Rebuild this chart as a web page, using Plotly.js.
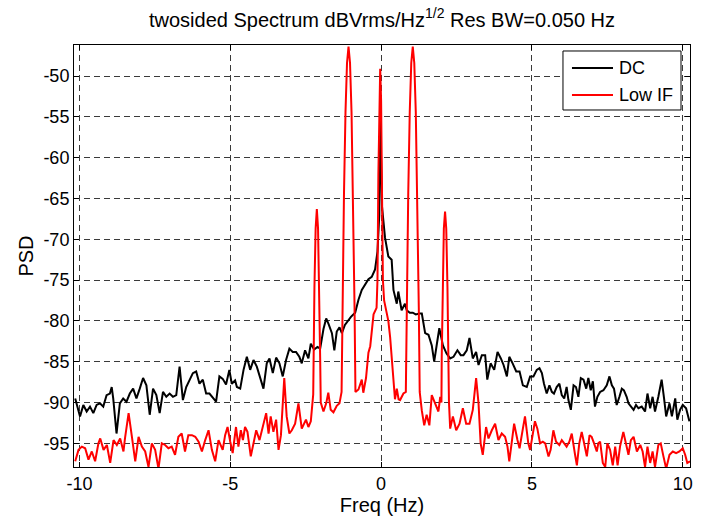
<!DOCTYPE html>
<html>
<head>
<meta charset="utf-8">
<script src="https://cdn.plot.ly/plotly-3.0.1.min.js"></script>
<style>html,body{margin:0;padding:0;background:#fff;}#chart{width:703px;height:520px;}</style>
</head>
<body>
<div id="chart"></div>
<script>
// DC series (black)
const dcFreq = [-10.14,-9.98,-9.87,-9.76,-9.65,-9.54,-9.43,-9.32,-9.21,-9.10,-8.99,-8.93,-8.88,-8.77,-8.66,-8.55,-8.44,-8.33,-8.22,-8.11,-8.00,-7.89,-7.78,-7.67,-7.56,-7.45,-7.34,-7.23,-7.12,-7.01,-6.90,-6.79,-6.68,-6.57,-6.46,-6.35,-6.24,-6.13,-6.02,-5.91,-5.80,-5.69,-5.58,-5.47,-5.36,-5.25,-5.14,-5.03,-4.95,-4.84,-4.78,-4.67,-4.56,-4.45,-4.34,-4.23,-4.12,-4.01,-3.90,-3.79,-3.70,-3.59,-3.48,-3.37,-3.26,-3.15,-3.04,-2.93,-2.82,-2.71,-2.63,-2.52,-2.41,-2.33,-2.22,-2.11,-2.02,-1.91,-1.82,-1.74,-1.63,-1.55,-1.47,-1.38,-1.30,-1.20,-1.10,-1.00,-0.86,-0.75,-0.64,-0.53,-0.42,-0.31,-0.20,-0.12,-0.06,-0.03,0.03,0.13,0.24,0.35,0.41,0.52,0.57,0.68,0.79,0.85,0.95,1.05,1.15,1.27,1.35,1.46,1.57,1.68,1.76,1.85,1.93,2.05,2.17,2.29,2.40,2.53,2.64,2.73,2.84,2.93,3.04,3.15,3.23,3.34,3.45,3.52,3.63,3.75,3.86,3.97,4.06,4.17,4.25,4.36,4.48,4.59,4.70,4.83,4.94,5.05,5.16,5.25,5.33,5.40,5.49,5.58,5.66,5.73,5.82,5.91,5.99,6.07,6.15,6.21,6.29,6.38,6.46,6.54,6.62,6.71,6.80,6.87,6.95,7.02,7.09,7.17,7.26,7.37,7.48,7.57,7.65,7.72,7.81,7.90,7.98,8.05,8.14,8.20,8.28,8.37,8.45,8.53,8.64,8.75,8.83,8.92,9.00,9.08,9.19,9.30,9.38,9.45,9.56,9.64,9.75,9.82,9.91,10.00,10.11,10.22];
const dcPsd = [-89.5,-91.7,-90.3,-91.1,-90.5,-91.3,-90.3,-90.1,-90.5,-89.1,-88.9,-88.1,-89.5,-93.8,-90.1,-89.5,-89.9,-88.9,-88.3,-89.5,-88.3,-87.0,-87.9,-91.5,-88.3,-89.1,-91.3,-88.7,-89.3,-88.9,-89.3,-89.1,-85.6,-89.7,-88.1,-87.2,-86.4,-86.2,-87.7,-87.2,-88.9,-88.9,-89.4,-89.9,-86.8,-87.1,-87.8,-86.0,-87.7,-87.3,-88.1,-88.3,-86.0,-84.4,-86.0,-84.8,-85.6,-87.0,-88.3,-85.2,-84.6,-86.4,-84.5,-85.2,-86.8,-84.8,-83.4,-83.8,-83.8,-84.4,-85.2,-83.6,-84.6,-82.8,-83.5,-83.2,-83.4,-81.0,-79.7,-80.4,-81.5,-83.6,-81.3,-80.8,-81.5,-80.5,-80.0,-79.5,-79.0,-77.4,-76.2,-75.5,-74.9,-74.6,-73.7,-71.5,-67.0,-54.3,-66.0,-69.8,-72.1,-72.5,-76.2,-77.9,-76.4,-78.7,-77.9,-78.7,-79.0,-79.0,-79.2,-79.1,-79.1,-81.5,-81.7,-83.0,-85.0,-82.8,-80.9,-83.0,-84.0,-84.6,-84.4,-83.6,-84.2,-84.2,-83.6,-82.1,-84.6,-83.8,-85.4,-84.2,-84.2,-87.2,-85.2,-86.0,-83.8,-84.6,-85.4,-86.8,-84.4,-85.2,-86.2,-86.2,-87.9,-88.1,-86.8,-86.8,-86.0,-85.8,-86.4,-87.7,-88.9,-87.9,-88.7,-88.9,-88.1,-87.7,-89.1,-89.5,-88.1,-89.7,-90.9,-87.9,-88.1,-89.3,-87.0,-87.2,-88.3,-87.0,-88.5,-87.4,-90.5,-89.3,-88.7,-88.5,-87.9,-86.8,-87.9,-88.3,-90.3,-89.3,-88.3,-88.5,-89.3,-90.1,-90.5,-90.9,-90.3,-90.7,-90.5,-91.1,-88.9,-90.7,-89.3,-91.1,-89.3,-87.2,-89.5,-91.7,-90.1,-91.7,-89.5,-92.1,-90.9,-90.3,-90.7,-92.3];

// Low IF series (red)
const lowIfFreq = [-10.14,-10.03,-9.92,-9.81,-9.70,-9.59,-9.48,-9.37,-9.31,-9.20,-9.09,-8.98,-8.87,-8.76,-8.65,-8.54,-8.49,-8.37,-8.26,-8.15,-8.04,-7.93,-7.82,-7.71,-7.60,-7.49,-7.38,-7.27,-7.16,-7.05,-6.94,-6.83,-6.72,-6.61,-6.50,-6.39,-6.27,-6.16,-6.05,-5.94,-5.83,-5.72,-5.61,-5.50,-5.39,-5.25,-5.17,-5.09,-5.00,-4.92,-4.81,-4.73,-4.65,-4.58,-4.51,-4.43,-4.32,-4.23,-4.14,-4.03,-3.92,-3.81,-3.73,-3.66,-3.57,-3.48,-3.40,-3.32,-3.21,-3.13,-3.04,-2.96,-2.85,-2.74,-2.63,-2.57,-2.49,-2.41,-2.33,
  -2.25,-2.24,-2.21,-2.17,-2.13,-2.09,-2.05,-2.02,-2.00,-1.91,-1.82,-1.75,-1.67,-1.58,-1.47,-1.38,
  -1.31,-1.28,-1.23,-1.18,-1.13,-1.08,-1.03,-0.98,-0.93,-0.88,-0.85,-0.75,-0.64,-0.59,-0.50,-0.42,-0.36,-0.31,-0.25,
  -0.15,-0.12,-0.09,-0.06,-0.03,0.00,0.03,0.06,0.10,0.17,0.24,0.30,0.35,0.43,0.46,0.52,0.58,0.63,0.74,
  0.82,0.85,0.90,0.95,1.00,1.05,1.10,1.15,1.20,1.25,1.28,1.35,1.43,1.51,1.60,1.68,1.79,1.90,1.96,
  2.00,2.01,2.04,2.08,2.12,2.16,2.20,2.23,2.25,
  2.29,2.38,2.49,2.60,2.71,2.82,2.93,3.04,3.15,3.23,3.30,3.37,3.48,3.56,3.67,3.78,3.89,4.00,4.11,4.19,4.25,4.36,4.41,4.52,4.59,4.70,4.77,4.88,4.94,5.10,5.18,5.27,5.36,5.44,5.55,5.62,5.71,5.80,5.91,5.99,6.07,6.15,6.24,6.32,6.43,6.49,6.57,6.65,6.73,6.82,6.91,6.98,7.06,7.15,7.20,7.26,7.35,7.43,7.50,7.59,7.68,7.76,7.84,7.92,8.03,8.12,8.20,8.28,8.37,8.48,8.59,8.67,8.75,8.83,8.92,9.00,9.08,9.19,9.27,9.36,9.45,9.56,9.67,9.78,9.89,10.00,10.08,10.15,10.24];
const lowIfPsd = [-97.2,-95.8,-95.4,-95.6,-97.0,-96.0,-97.2,-95.0,-94.4,-95.8,-95.2,-97.4,-94.6,-95.2,-94.4,-96.0,-94.4,-91.3,-94.2,-97.2,-94.2,-95.4,-96.0,-97.9,-95.0,-95.8,-98.1,-95.0,-95.2,-95.6,-95.4,-96.4,-94.2,-93.8,-96.0,-94.0,-94.0,-94.2,-94.8,-96.0,-94.6,-93.4,-95.8,-97.2,-94.6,-95.8,-94.0,-93.0,-94.8,-96.2,-93.0,-95.4,-93.4,-94.6,-93.0,-93.6,-96.6,-95.0,-93.4,-94.6,-93.0,-91.3,-93.8,-91.7,-93.6,-92.1,-95.8,-94.0,-87.0,-91.7,-93.8,-93.4,-92.6,-90.1,-93.2,-92.8,-92.1,-93.0,-92.3,
  -89.0,-84.5,-75.9,-68.7,-66.3,-68.7,-75.9,-84.5,-90.0,-91.1,-90.1,-88.8,-90.9,-91.2,-90.4,-90.1,
  -88.7,-78.4,-64.4,-54.4,-48.4,-46.4,-48.4,-54.4,-64.4,-78.4,-88.7,-88.4,-87.2,-88.8,-87.0,-83.9,-83.1,-81.2,-79.2,
  -78.4,-75.0,-62.0,-53.0,-49.1,-53.0,-62.0,-75.0,-77.5,-78.8,-80.0,-82.0,-84.3,-87.2,-89.6,-88.3,-89.6,-89.7,-88.9,
  -88.7,-78.4,-64.4,-54.4,-48.4,-46.4,-48.4,-54.4,-64.4,-78.4,-88.7,-91.0,-92.8,-91.5,-92.8,-89.1,-90.1,-91.1,-89.3,
  -90.0,-84.5,-75.9,-68.7,-66.6,-68.7,-75.9,-84.5,-90.0,
  -93.2,-91.7,-93.4,-92.6,-90.7,-92.6,-92.6,-90.9,-87.0,-90.1,-95.0,-96.4,-93.0,-94.4,-93.4,-92.6,-94.6,-93.8,-94.2,-95.4,-97.2,-93.8,-92.6,-94.6,-95.6,-93.2,-91.7,-95.0,-95.8,-92.3,-93.2,-95.0,-94.8,-95.0,-96.6,-95.8,-93.4,-94.8,-95.2,-94.6,-95.0,-95.4,-94.8,-93.8,-96.4,-97.7,-95.0,-93.6,-95.0,-96.6,-94.0,-94.2,-95.0,-96.0,-95.0,-94.8,-97.4,-97.9,-95.0,-95.8,-97.7,-95.4,-97.7,-95.4,-93.6,-95.0,-96.4,-94.6,-94.2,-96.0,-95.2,-96.0,-97.9,-95.4,-97.4,-96.0,-97.9,-95.2,-95.0,-96.6,-98.1,-96.4,-96.0,-96.2,-96.0,-95.6,-96.4,-97.4,-97.2];

const seriesNames = ['DC', 'Low IF'];
const seriesColors = ['#000000', '#ff0000'];
const xTicks = [-10, -5, 0, 5, 10];
const yTicks = [-95, -90, -85, -80, -75, -70, -65, -60, -55, -50];

const font = 'Liberation Sans, Arial, sans-serif';
const traces = [
  {x: dcFreq, y: dcPsd, type: 'scatter', mode: 'lines', name: seriesNames[0],
   line: {color: seriesColors[0], width: 2}},
  {x: lowIfFreq, y: lowIfPsd, type: 'scatter', mode: 'lines', name: seriesNames[1],
   line: {color: seriesColors[1], width: 2}}
];

// MATLAB-style legend box (paper coordinates)
const legBox = {x0: 0.7938, x1: 0.9854, y0: 0.846, y1: 0.9858};
const legRowsY = [0.9455, 0.8815];
const legLine = {x0: 0.8084, x1: 0.875};
const legTextX = 0.8815;
const shapes = [
  {type: 'rect', xref: 'paper', yref: 'paper', x0: legBox.x0, x1: legBox.x1, y0: legBox.y0, y1: legBox.y1,
   line: {color: '#000', width: 1}, fillcolor: '#fff', layer: 'above'}
];
const annotations = [];
seriesNames.forEach((n, i) => {
  shapes.push({type: 'line', xref: 'paper', yref: 'paper', x0: legLine.x0, x1: legLine.x1,
               y0: legRowsY[i], y1: legRowsY[i], line: {color: seriesColors[i], width: 2}, layer: 'above'});
  annotations.push({xref: 'paper', yref: 'paper', x: legTextX, y: legRowsY[i], xanchor: 'left', yanchor: 'middle',
                    text: n, showarrow: false, font: {family: font, size: 18, color: '#000'}});
});

const axisCommon = {
  showline: true, linecolor: '#000', linewidth: 1, mirror: 'ticks',
  ticks: 'inside', ticklen: 5, tickcolor: '#000', tickwidth: 1,
  showgrid: true, gridcolor: '#3a3a3a', gridwidth: 1, griddash: '6px,4px',
  zeroline: false, tickfont: {family: font, size: 18, color: '#000'}
};

const layout = {
  width: 703, height: 520,
  paper_bgcolor: '#fff', plot_bgcolor: '#fff',
  margin: {l: 74, r: 13, t: 45, b: 53},
  title: {text: 'twosided Spectrum dBVrms/Hz<sup>1/2</sup> Res BW=0.050 Hz',
          font: {family: font, size: 20, color: '#000'},
          x: 0.5, xref: 'paper', xanchor: 'center', y: 0.962, yref: 'container', yanchor: 'middle'},
  xaxis: Object.assign({}, axisCommon, {
    range: [-10.18, 10.24], tickvals: xTicks, ticktext: xTicks.map(String),
    title: {text: 'Freq (Hz)', font: {family: font, size: 20, color: '#000'}, standoff: 4}
  }),
  yaxis: Object.assign({}, axisCommon, {
    range: [-97.9, -46.2], tickvals: yTicks, ticktext: yTicks.map(String),
    title: {text: 'PSD', font: {family: font, size: 20, color: '#000'}, standoff: 4}
  }),
  showlegend: false,
  shapes: shapes,
  annotations: annotations
};

Plotly.newPlot('chart', traces, layout, {displayModeBar: false, staticPlot: true});
</script>
</body>
</html>
